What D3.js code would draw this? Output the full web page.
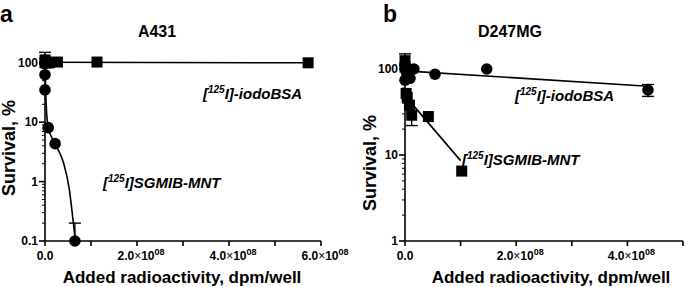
<!DOCTYPE html>
<html lang="en">
<head>
  <meta charset="UTF-8">
  <title>Survival vs added radioactivity</title>
  <script src="https://d3js.org/d3.v7.min.js"></script>
  <style>
    html, body { margin: 0; padding: 0; background: #fff; }
    svg { display: block; font-family: Arial, "Liberation Sans", sans-serif; }
    .axis-line { stroke: #000; stroke-width: 1.6px; fill: none; }
    .fit { stroke: #000; stroke-width: 1.6px; fill: none; }
    .err { stroke: #000; stroke-width: 1.4px; fill: none; }
    .tick-label { font-size: 12px; font-weight: bold; }
  </style>
</head>
<body>
<div id="container"></div>
<script>
  const width = 685;
  const height = 287;

  // panel a (A431)
  const aXTicks = [0, 2e8, 4e8, 6e8];
  const aXMinor = [1e8, 3e8, 5e8];
  const aYTicks = [0.1, 1, 10, 100];
  const aYLabels = ['0.1', '1', '10', '100'];

  const aBsaX = [0, 0, 0.02e8, 0.05e8, 0.1e8, 0.27e8, 1.13e8, 5.72e8];
  const aBsaY = [112, 100, 105, 100, 100, 103, 103, 100];
  const aBsaHi = [150, null, null, null, null, null, null, null];
  const aMntX = [0, 0, 0, 0.07e8, 0.22e8, 0.65e8];
  const aMntY = [98, 63, 35, 8.1, 4.35, 0.1];
  const aMntHi = [null, null, null, null, null, 0.2];
  const aBsaFitX = [0, 5.72e8];
  const aBsaFitY = [102, 100];
  const aMntFitX = [0, 0.02e8, 0.07e8, 0.22e8, 0.40e8, 0.53e8, 0.60e8, 0.65e8];
  const aMntFitY = [100, 25, 8.1, 4.35, 2.1, 0.73, 0.26, 0.12];

  // panel b (D247MG)
  const bXTicks = [0, 2e8, 4e8];
  const bXMinor = [1e8, 3e8, 5e8];
  const bYTicks = [1, 10, 100];
  const bYLabels = ['1', '10', '100'];

  const bBsaX = [0, 0, 0.03e8, 0.09e8, 0.16e8, 0.54e8, 1.47e8, 4.37e8];
  const bBsaY = [111, 74, 90, 78, 100, 87, 100, 57];
  const bBsaLo = [null, null, null, null, null, null, null, 48];
  const bBsaHi = [null, null, null, null, null, null, null, 66];
  const bMntX = [0, 0, 0.02e8, 0.04e8, 0.08e8, 0.12e8, 0.42e8, 1.02e8];
  const bMntY = [125, 105, 52, 47, 38, 29, 28, 6.5];
  const bMntLo = [null, null, null, null, null, 22, null, null];
  const bMntHi = [150, null, null, null, null, null, null, null];
  const bBsaFitX = [0, 4.37e8];
  const bBsaFitY = [95, 63];
  const bMntFitX = [0, 1.0e8];
  const bMntFitY = [49, 8.6];

  const svg = d3.select('#container').append('svg')
    .attr('width', width).attr('height', height);

  function zip(xs, ys, lo, hi) {
    return xs.map((x, i) => ({x: x, y: ys[i], lo: lo ? lo[i] : null, hi: hi ? hi[i] : null}));
  }

  function xTickText(sel, v) {
    if (v === 0) { sel.text('0.0'); return; }
    const m = v / 1e8;
    sel.append('tspan').text(m.toFixed(1));
    sel.append('tspan').attr('font-weight', 'normal').text('\u00d7');
    sel.append('tspan').text('10');
    sel.append('tspan').attr('font-size', '9px').attr('dy', -5).text('08');
  }

  function label125(g, x, y, rest) {
    const t = g.append('text').attr('x', x).attr('y', y)
      .attr('font-size', '15px').attr('font-weight', 'bold').attr('font-style', 'italic');
    t.append('tspan').text('[');
    t.append('tspan').attr('font-size', '10px').attr('dy', -6).text('125');
    t.append('tspan').attr('dy', 6).text(rest);
  }

  function drawPanel(cfg) {
    const g = svg.append('g');
    const x = d3.scaleLinear().domain(cfg.xDomain).range(cfg.xRange);
    const y = d3.scaleLog().domain(cfg.yDomain).range(cfg.yRange);
    const x0 = cfg.xRange[0], y0 = cfg.yRange[0];

    // axes lines
    g.append('line').attr('class', 'axis-line')
      .attr('x1', x0).attr('x2', x0).attr('y1', y0).attr('y2', cfg.yRange[1]);
    g.append('line').attr('class', 'axis-line')
      .attr('x1', x0).attr('x2', cfg.xRange[1]).attr('y1', y0).attr('y2', y0);

    // y ticks (log, with minors)
    const minor = [];
    cfg.yTicks.forEach(d => { for (let k = 2; k <= 9; k++) if (d * k < cfg.yDomain[1]) minor.push(d * k); });
    g.selectAll('.ymin').data(minor).enter().append('line').attr('class', 'axis-line')
      .style('stroke-width', '1px')
      .attr('x1', x0 - 3).attr('x2', x0).attr('y1', d => y(d)).attr('y2', d => y(d));
    g.selectAll('.ymaj').data(cfg.yTicks).enter().append('line').attr('class', 'axis-line')
      .attr('x1', x0 - 6).attr('x2', x0).attr('y1', d => y(d)).attr('y2', d => y(d));
    g.selectAll('.ylab').data(cfg.yTicks).enter().append('text').attr('class', 'tick-label')
      .attr('x', x0 - 7).attr('y', d => y(d) + 4).attr('text-anchor', 'end')
      .text((d, i) => cfg.yLabels[i]);

    // x ticks
    g.selectAll('.xmaj').data(cfg.xTicks.concat(cfg.xMinor)).enter().append('line').attr('class', 'axis-line')
      .attr('x1', d => x(d)).attr('x2', d => x(d)).attr('y1', y0).attr('y2', y0 + 5);
    cfg.xTicks.forEach(v => {
      const t = g.append('text').attr('class', 'tick-label')
        .attr('x', x(v) + (v === 0 ? 0 : 4)).attr('y', y0 + 19).attr('text-anchor', 'middle');
      xTickText(t, v);
    });

    // fit lines
    const line = d3.line().x(d => x(d.x)).y(d => y(d.y)).curve(d3.curveMonotoneX);
    cfg.fits.forEach(f => {
      g.append('path').attr('class', 'fit').attr('d', line(f));
    });

    // error bars
    cfg.series.forEach(s => {
      s.data.forEach(d => {
        [d.lo, d.hi].forEach(e => {
          if (e == null) return;
          g.append('line').attr('class', 'err')
            .attr('x1', x(d.x)).attr('x2', x(d.x)).attr('y1', y(d.y)).attr('y2', y(e));
          g.append('line').attr('class', 'err')
            .attr('x1', x(d.x) - 6).attr('x2', x(d.x) + 6).attr('y1', y(e)).attr('y2', y(e));
        });
      });
    });

    // markers
    cfg.series.forEach(s => {
      if (s.shape === 'square') {
        g.selectAll(null).data(s.data).enter().append('rect')
          .attr('x', d => x(d.x) - 5.5).attr('y', d => y(d.y) - 5.5)
          .attr('width', 11).attr('height', 11).attr('fill', '#000');
      } else {
        g.selectAll(null).data(s.data).enter().append('circle')
          .attr('cx', d => x(d.x)).attr('cy', d => y(d.y)).attr('r', 5.8).attr('fill', '#000');
      }
    });

    // titles and labels
    g.append('text').attr('x', cfg.letter[0]).attr('y', cfg.letter[1])
      .attr('font-size', '23px').attr('font-weight', 'bold').text(cfg.letterText);
    g.append('text').attr('x', cfg.title[0]).attr('y', 37).attr('text-anchor', 'middle')
      .attr('font-size', '16px').attr('font-weight', 'bold').text(cfg.titleText);
    g.append('text').attr('x', (cfg.xRange[0] + cfg.xRange[1]) / 2 + cfg.xLabelShift).attr('y', 283)
      .attr('text-anchor', 'middle').attr('font-size', '17px').attr('font-weight', 'bold')
      .text('Added radioactivity, dpm/well');
    g.append('text')
      .attr('transform', `translate(${cfg.yLabel[0]},${cfg.yLabel[1]}) rotate(-90)`)
      .attr('text-anchor', 'middle').attr('font-size', '18px').attr('font-weight', 'bold')
      .text('Survival, %');

    label125(g, cfg.bsaLabel[0], cfg.bsaLabel[1], 'I]-iodoBSA');
    label125(g, cfg.mntLabel[0], cfg.mntLabel[1], 'I]SGMIB-MNT');
  }

  drawPanel({
    xDomain: [0, 6e8], xRange: [45, 321],
    yDomain: [0.1, 150], yRange: [241, 241 - 59.4 * Math.log10(1500)],
    yTicks: aYTicks, yLabels: aYLabels, xTicks: aXTicks, xMinor: aXMinor,
    fits: [zip(aBsaFitX, aBsaFitY), zip(aMntFitX, aMntFitY)],
    series: [
      {shape: 'square', data: zip(aBsaX, aBsaY, null, aBsaHi)},
      {shape: 'circle', data: zip(aMntX, aMntY, null, aMntHi)}
    ],
    letter: [0, 22], letterText: 'a',
    title: [157], titleText: 'A431',
    xLabelShift: -1, yLabel: [15, 148],
    bsaLabel: [203, 99], mntLabel: [103, 188]
  });

  drawPanel({
    xDomain: [0, 5e8], xRange: [405, 683],
    yDomain: [1, 150], yRange: [241, 241 - 86 * Math.log10(150)],
    yTicks: bYTicks, yLabels: bYLabels, xTicks: bXTicks, xMinor: bXMinor,
    fits: [zip(bBsaFitX, bBsaFitY), zip(bMntFitX, bMntFitY)],
    series: [
      {shape: 'circle', data: zip(bBsaX, bBsaY, bBsaLo, bBsaHi)},
      {shape: 'square', data: zip(bMntX, bMntY, bMntLo, bMntHi)}
    ],
    letter: [383, 22], letterText: 'b',
    title: [510], titleText: 'D247MG',
    xLabelShift: 7, yLabel: [376, 163],
    bsaLabel: [515, 101], mntLabel: [462, 165]
  });
</script>
</body>
</html>
